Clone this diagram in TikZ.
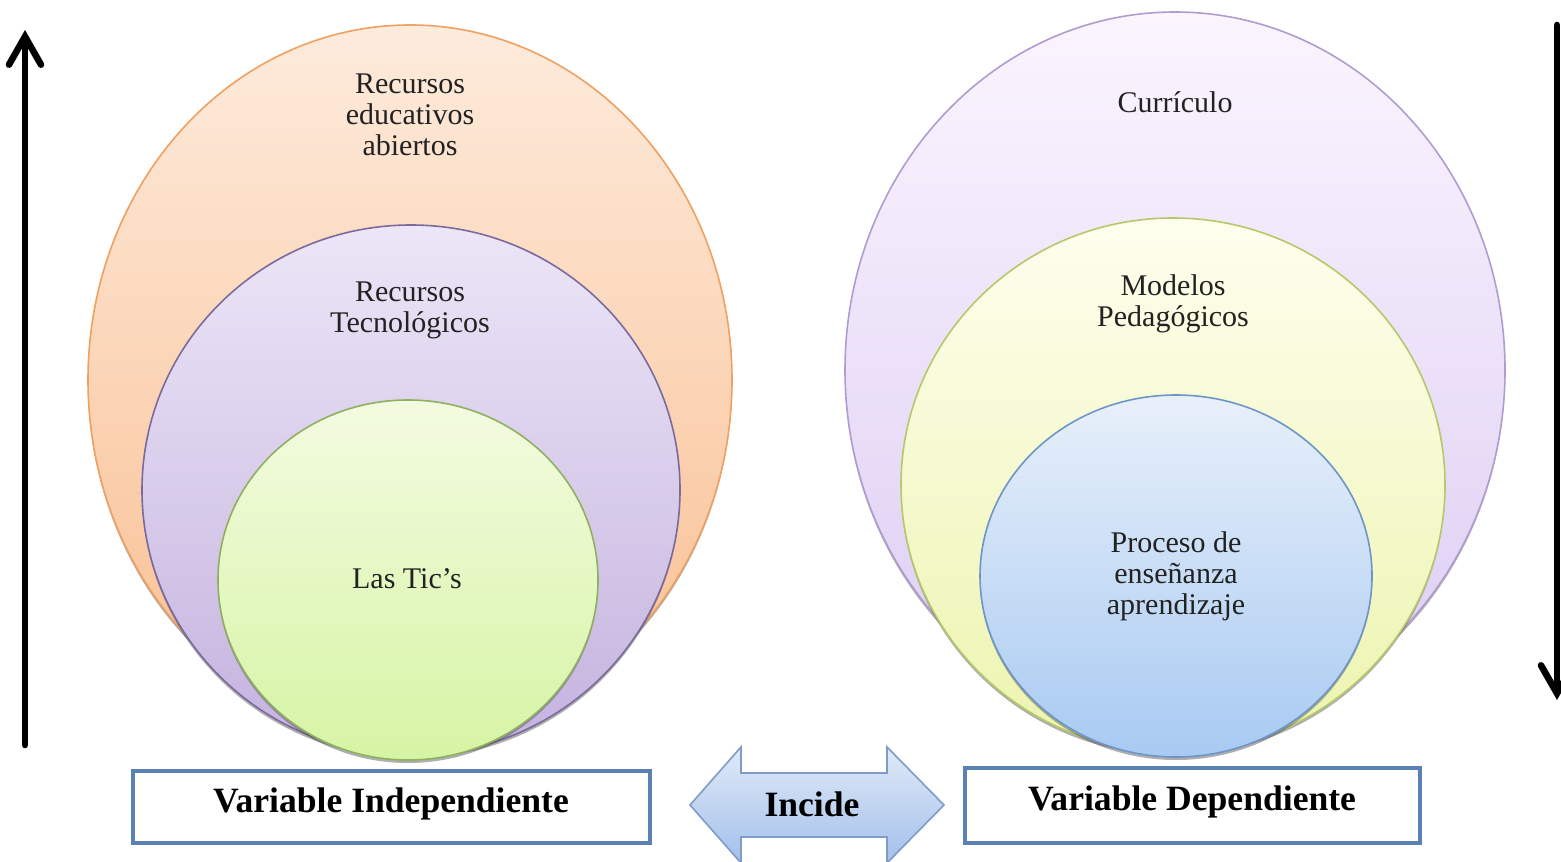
\documentclass[tikz,border=0pt]{standalone}
\usepackage{fontspec}
\setmainfont{Liberation Serif}
\usetikzlibrary{arrows.meta,shapes.geometric,shadows}
\definecolor{orBorder}{HTML}{F0A060}
\definecolor{orTop}{HTML}{FDEBDC}
\definecolor{orBot}{HTML}{F9BE90}
\definecolor{puBorder}{HTML}{7B6A9E}
\definecolor{puTop}{HTML}{ECE6F7}
\definecolor{puBot}{HTML}{C4B2DE}
\definecolor{grBorder}{HTML}{8FB060}
\definecolor{grTop}{HTML}{F3FBE0}
\definecolor{grBot}{HTML}{D6F4A4}
\definecolor{rpBorder}{HTML}{B09CCF}
\definecolor{rpTop}{HTML}{FBF5FE}
\definecolor{rpBot}{HTML}{DCCCF3}
\definecolor{ygBorder}{HTML}{B5C96A}
\definecolor{ygTop}{HTML}{FEFEEE}
\definecolor{ygBot}{HTML}{ECF4AE}
\definecolor{blBorder}{HTML}{6E95C8}
\definecolor{blTop}{HTML}{E8F0FA}
\definecolor{blBot}{HTML}{A8CAF2}
\definecolor{arBorder}{HTML}{7F9BC6}
\definecolor{arTop}{HTML}{E0EAF8}
\definecolor{arBot}{HTML}{A3C0EA}
\definecolor{boxBorder}{HTML}{5A80B4}
\definecolor{txt}{HTML}{222222}
\begin{document}
\begin{tikzpicture}[x=0.5pt,y=-0.5pt,
  blob/.style={ellipse,inner sep=0pt,line width=0.8pt,
    drop shadow={shadow xshift=0pt,shadow yshift=-1.5pt,fill=black!70,opacity=0.45}},
  lbl/.style={font=\fontsize{15}{15.5}\selectfont,text=txt,align=center},
  vbox/.style={draw=boxBorder,line width=2pt,fill=white,inner sep=0pt},
  btxt/.style={font=\fontsize{17.8}{18}\selectfont\bfseries,text=black},
  bigarrow/.style={line width=3.3pt,line cap=round,-{Straight Barb[length=14pt,width=16pt,line cap=round]}}
]
\useasboundingbox (0,0) rectangle (1561,861);
\fill[white] (0,0) rectangle (1561,861);

% vertical arrows
\coordinate (la0) at (25,745);
\coordinate (la1) at (25,30);
\draw[bigarrow] (la0) -- (la1);
\coordinate (ra0) at (1557,25);
\coordinate (ra1) at (1557,700);
\draw[bigarrow] (ra0) -- (ra1);

% left set
\node[blob,draw=orBorder,top color=orTop,bottom color=orBot,minimum width=322pt,minimum height=355pt] (rea) at (410,380) {};
\node[blob,draw=puBorder,top color=puTop,bottom color=puBot,minimum width=269pt,minimum height=265pt] (rt) at (411,490) {};
\node[blob,draw=grBorder,top color=grTop,bottom color=grBot,minimum width=190pt,minimum height=180pt] (tic) at (408,580) {};
\node[lbl] (trea) at (410,115) {Recursos\\educativos\\abiertos};
\node[lbl] (trt) at (410,310) {Recursos\\Tecnológicos};
\node[lbl] (ttic) at (407,579) {Las Tic’s};

% right set
\node[blob,draw=rpBorder,top color=rpTop,bottom color=rpBot,minimum width=330pt,minimum height=358pt] (cur) at (1175,370) {};
\node[blob,draw=ygBorder,top color=ygTop,bottom color=ygBot,minimum width=272pt,minimum height=267pt] (mp) at (1173,485) {};
\node[blob,draw=blBorder,top color=blTop,bottom color=blBot,minimum width=196pt,minimum height=181pt] (pea) at (1176,576) {};
\node[lbl] (tcur) at (1175,102) {Currículo};
\node[lbl] (tmp) at (1173,304) {Modelos\\Pedagógicos};
\node[lbl] (tpea) at (1176,576) {Proceso de\\enseñanza\\aprendizaje};

% boxes
\node[vbox,minimum width=258.5pt,minimum height=36pt] (vi) at (391.5,807) {};
\node[btxt] at (391,804) {Variable Independiente};
\node[vbox,minimum width=227.5pt,minimum height=37.5pt] (vd) at (1192.5,805.5) {};
\node[btxt] at (1192,802) {Variable Dependiente};

% double arrow
\draw[draw=arBorder,line width=0.8pt,top color=arTop,bottom color=arBot]
  (690,805) -- (741,747) -- (741,773) -- (887,773) -- (887,747) -- (944,805)
  -- (887,863) -- (887,837) -- (741,837) -- (741,863) -- cycle;
\node[btxt] (inc) at (812,804) {Incide};
\end{tikzpicture}
\end{document}
